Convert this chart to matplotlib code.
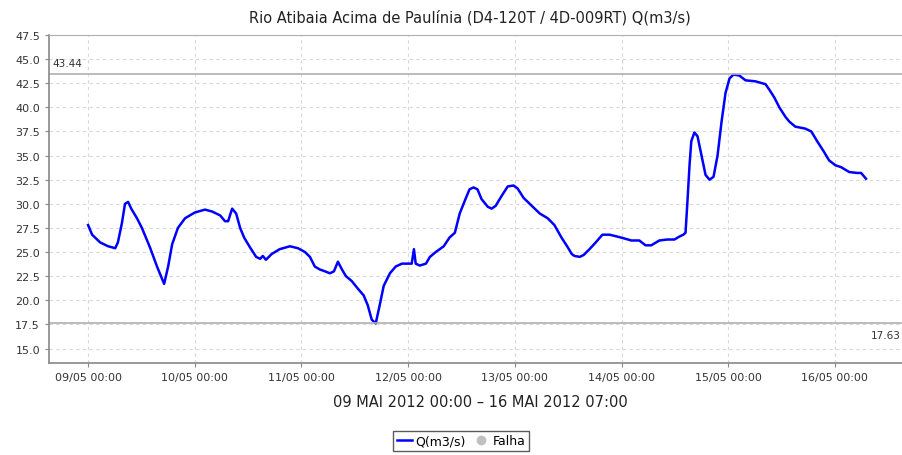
import numpy as np
import matplotlib
matplotlib.use("Agg")
import matplotlib.pyplot as plt
import matplotlib.dates as mdates
from datetime import datetime, timedelta

# dados: horas desde 09/05/2012 00:00 e vazao Q (m3/s)
horas = [0.0, 0.9, 2.7, 4.5, 6.1, 6.7, 7.6, 8.3, 9.0, 9.7,
         11.0, 12.1, 13.9, 15.5, 17.1, 18.0, 18.9, 20.2, 21.8, 24.0,
         26.3, 27.9, 29.7, 30.8, 31.5, 32.4, 33.3, 34.2, 35.1, 36.4,
         37.8, 38.7, 39.3, 40.0, 41.3, 43.1, 45.4, 47.2, 48.8, 49.9,
         51.0, 52.1, 53.3, 54.4, 55.3, 56.2, 57.1, 58.0, 59.3, 60.7,
         62.0, 62.9, 63.8, 64.7, 65.6, 66.5, 67.9, 69.2, 70.6, 72.8,
         73.3, 73.7, 74.6, 76.0, 76.9, 78.2, 80.0, 81.3, 82.5, 83.6,
         84.9, 85.8, 86.7, 87.6, 88.5, 89.9, 90.8, 91.7, 93.0, 94.4,
         95.7, 96.6, 98.0, 99.8, 101.6, 103.4, 104.9, 106.5, 107.9, 108.8,
         109.4, 110.6, 111.5, 112.8, 114.2, 115.7, 117.3, 119.1, 120.7, 122.2,
         124.0, 125.4, 126.7, 128.5, 130.3, 131.9, 133.0, 133.9, 134.4, 134.8,
         135.3, 135.7, 136.4, 137.1, 138.0, 138.9, 139.8, 140.7, 141.6, 142.5,
         143.4, 144.3, 145.2, 146.5, 147.9, 150.1, 152.4, 153.3, 154.4, 155.5,
         156.9, 157.8, 159.1, 161.3, 162.7, 164.0, 165.4, 166.7, 168.1, 169.4,
         171.2, 173.0, 173.9, 175.0]
vazao = [27.8, 26.8, 26.0, 25.6, 25.4, 26.0, 28.0, 30.0, 30.2, 29.5,
         28.5, 27.5, 25.5, 23.5, 21.7, 23.5, 25.8, 27.5, 28.5, 29.1,
         29.4, 29.2, 28.8, 28.2, 28.2, 29.5, 29.0, 27.5, 26.5, 25.5,
         24.5, 24.3, 24.6, 24.2, 24.8, 25.3, 25.6, 25.4, 25.0, 24.5,
         23.5, 23.2, 23.0, 22.8, 23.0, 24.0, 23.2, 22.5, 22.0, 21.2,
         20.5, 19.5, 18.0, 17.6, 19.5, 21.5, 22.8, 23.5, 23.8, 23.8,
         25.3, 23.8, 23.6, 23.8, 24.5, 25.0, 25.6, 26.5, 27.0, 29.0,
         30.5, 31.5, 31.7, 31.5, 30.5, 29.7, 29.5, 29.8, 30.8, 31.8,
         31.9, 31.6, 30.6, 29.8, 29.0, 28.5, 27.8, 26.5, 25.5, 24.8,
         24.6, 24.5, 24.7, 25.3, 26.0, 26.8, 26.8, 26.6, 26.4, 26.2,
         26.2, 25.7, 25.7, 26.2, 26.3, 26.3, 26.6, 26.8, 27.0, 30.0,
         34.0, 36.5, 37.4, 37.0, 35.0, 33.0, 32.5, 32.8, 35.0, 38.5,
         41.5, 43.0, 43.4, 43.3, 42.8, 42.7, 42.4, 41.8, 41.0, 40.0,
         39.0, 38.5, 38.0, 37.8, 37.5, 36.5, 35.5, 34.5, 34.0, 33.8,
         33.3, 33.2, 33.2, 32.6]
q_max = 43.44
q_min = 17.63

inicio = datetime(2012, 5, 9)
datas = [inicio + timedelta(hours=h) for h in horas]

fig = plt.figure(figsize=(9.03, 4.56), dpi=100)
ax = fig.add_axes([49 / 903, 1 - 364 / 456, 853 / 903, 328 / 456])

ax.plot(datas, vazao, color="#0000ff", lw=1.8, label="Q(m3/s)")
ax.plot([], [], "o", color="#c0c0c0", ms=6, label="Falha")

# linhas de maximo e minimo
ax.axhline(q_max, color="#b0b0b0", lw=1.2)
ax.axhline(q_min, color="#b0b0b0", lw=1.2)
ax.text(0.004, q_max + 1.2, f"{q_max:.2f}", transform=ax.get_yaxis_transform(),
        fontsize=7.5, color="#333333", va="center", ha="left")
ax.text(0.998, q_min - 1.2, f"{q_min:.2f}", transform=ax.get_yaxis_transform(),
        fontsize=7.5, color="#333333", va="center", ha="right")

ax.set_ylim(13.5, 47.5)
ax.set_yticks(np.arange(15.0, 47.6, 2.5))
ax.yaxis.set_major_formatter(plt.FormatStrFormatter("%.1f"))
ax.set_xlim(inicio - timedelta(hours=8.8), inicio + timedelta(hours=183.1))
ax.xaxis.set_major_locator(mdates.DayLocator())
ax.xaxis.set_major_formatter(mdates.DateFormatter("%d/%m %H:%M"))

ax.grid(True, color="#d8d8d8", ls=(0, (3, 3)), lw=0.8)
for s in ["left", "bottom"]:
    ax.spines[s].set_color("#888888")
    ax.spines[s].set_linewidth(1.2)
ax.spines["top"].set_color("#b0b0b0")
ax.spines["right"].set_visible(False)
ax.tick_params(labelsize=8, colors="#333333", length=3, color="#888888")

fig.text(0.52, 1 - 18 / 456, "Rio Atibaia Acima de Paulínia (D4-120T / 4D-009RT) Q(m3/s)",
         ha="center", va="center", fontsize=10.5, color="#222222")
fig.text(0.532, 1 - 403 / 456, "09 MAI 2012 00:00 – 16 MAI 2012 07:00",
         ha="center", va="center", fontsize=10.5, color="#222222")

leg = fig.legend(loc="center", bbox_to_anchor=(461 / 903, 1 - 442 / 456), ncol=2,
                 fontsize=9, frameon=True, fancybox=False, handlelength=1.2,
                 handletextpad=0.3, columnspacing=0.6, borderpad=0.3)
leg.get_frame().set_edgecolor("#333333")
leg.get_frame().set_linewidth(1.0)

fig.savefig("out.png", dpi=100)
